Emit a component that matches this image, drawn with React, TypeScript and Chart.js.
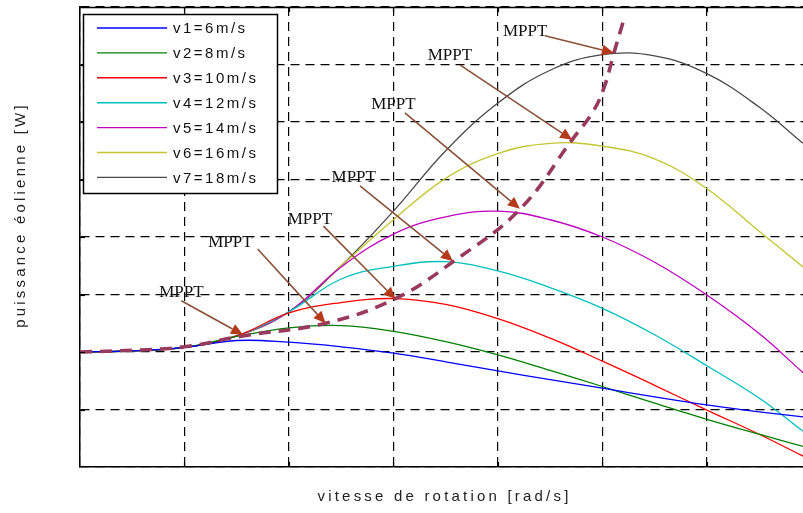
import React, { useEffect, useRef } from "react";
import { Chart, registerables } from "chart.js";

Chart.register(...registerables);

// rotation speed samples (grid units)
const speedX = [0, 0.5, 1, 1.5, 2, 2.5, 3, 3.5, 4, 4.5, 5, 5.5, 6, 6.5, 6.92];

// wind power curves (grid units)
const powerV1 = [2.0, 2.02, 2.08, 2.2, 2.17, 2.09, 1.98, 1.83, 1.67, 1.52, 1.37, 1.22, 1.08, 0.96, 0.87];
const powerV2 = [2.0, 2.02, 2.08, 2.27, 2.42, 2.46, 2.36, 2.18, 1.95, 1.68, 1.4, 1.11, 0.83, 0.57, 0.36];
const powerV3 = [2.0, 2.02, 2.08, 2.28, 2.68, 2.86, 2.93, 2.83, 2.58, 2.24, 1.84, 1.42, 0.99, 0.57, 0.19];
const powerV4 = [2.0, 2.02, 2.08, 2.28, 2.7, 3.27, 3.49, 3.57, 3.41, 3.12, 2.76, 2.3, 1.76, 1.2, 0.62];
const powerV5 = [2.0, 2.02, 2.08, 2.28, 2.7, 3.48, 4.05, 4.35, 4.45, 4.3, 4.0, 3.56, 2.99, 2.32, 1.64];
const powerV6 = [2.0, 2.02, 2.08, 2.28, 2.7, 3.5, 4.3, 5.02, 5.45, 5.63, 5.58, 5.36, 4.84, 4.1, 3.48];
const powerV7 = [2.0, 2.02, 2.08, 2.28, 2.7, 3.5, 4.45, 5.5, 6.33, 6.9, 7.17, 7.15, 6.84, 6.26, 5.63];

const seriesLabels = ["v1=6m/s", "v2=8m/s", "v3=10m/s", "v4=12m/s", "v5=14m/s", "v6=16m/s", "v7=18m/s"];
const seriesValues = [powerV1, powerV2, powerV3, powerV4, powerV5, powerV6, powerV7];
const seriesColors = ["#0000ff", "#008000", "#ff0000", "#00bfbf", "#bf00bf", "#c4c430", "#4a4a4a"];

// MPPT trajectory
const mpptX = [0, 0.5, 1, 1.56, 2.35, 3.02, 3.57, 4.21, 4.71, 4.91, 5.02, 5.11, 5.2];
const mpptY = [2.0, 2.03, 2.09, 2.28, 2.5, 2.93, 3.57, 4.48, 5.69, 6.18, 6.62, 7.2, 7.75];

// MPPT annotations
const mpptText = "MPPT";
const labelX = [0.97, 1.44, 2.2, 2.62, 3.0, 3.54, 4.26];
const labelY = [3.04, 3.91, 4.31, 5.03, 6.31, 7.15, 7.58];
const arrowFromX = [0.97, 1.7, 2.33, 2.68, 3.11, 3.64, 4.45];
const arrowFromY = [2.89, 3.79, 4.19, 4.89, 6.16, 6.99, 7.5];
const arrowToX = [1.56, 2.35, 3.02, 3.57, 4.21, 4.71, 5.11];
const arrowToY = [2.3, 2.5, 2.92, 3.58, 4.49, 5.69, 7.2];

const xTitle = "vitesse de rotation [rad/s]";
const yTitle = "puissance éolienne [W]";

const overlay = {
  id: "overlay",
  afterDatasetsDraw(chart: any) {
    const { ctx, chartArea: a, scales } = chart;
    const xs = scales.x;
    const ys = scales.y;
    ctx.save();
    // top frame line
    ctx.strokeStyle = "#000";
    ctx.lineWidth = 1.5;
    ctx.setLineDash([]);
    ctx.beginPath();
    ctx.moveTo(a.left, a.top + 0.5);
    ctx.lineTo(a.right, a.top + 0.5);
    ctx.stroke();
    // inner tick marks
    ctx.lineWidth = 1.2;
    for (let v = 1; v <= 6; v++) {
      const px = Math.round(xs.getPixelForValue(v)) + 0.5;
      ctx.beginPath();
      ctx.moveTo(px, a.bottom);
      ctx.lineTo(px, a.bottom - 5);
      ctx.moveTo(px, a.top);
      ctx.lineTo(px, a.top + 5);
      ctx.stroke();
    }
    for (let v = 1; v <= 7; v++) {
      const py = Math.round(ys.getPixelForValue(v)) + 0.5;
      ctx.beginPath();
      ctx.moveTo(a.left, py);
      ctx.lineTo(a.left + 5, py);
      ctx.stroke();
    }
    // arrows
    for (let i = 0; i < labelX.length; i++) {
      const x0 = xs.getPixelForValue(arrowFromX[i]);
      const y0 = ys.getPixelForValue(arrowFromY[i]);
      const x1 = xs.getPixelForValue(arrowToX[i]);
      const y1 = ys.getPixelForValue(arrowToY[i]);
      const ang = Math.atan2(y1 - y0, x1 - x0);
      const hl = 12;
      const hw = 5.5;
      const bx = x1 - hl * Math.cos(ang);
      const by = y1 - hl * Math.sin(ang);
      ctx.strokeStyle = "#8a5038";
      ctx.lineWidth = 1.6;
      ctx.beginPath();
      ctx.moveTo(x0, y0);
      ctx.lineTo(bx, by);
      ctx.stroke();
      ctx.fillStyle = "#b43a1c";
      ctx.beginPath();
      ctx.moveTo(x1, y1);
      ctx.lineTo(bx + hw * Math.sin(ang), by - hw * Math.cos(ang));
      ctx.lineTo(bx - hw * Math.sin(ang), by + hw * Math.cos(ang));
      ctx.closePath();
      ctx.fill();
      // label
      ctx.fillStyle = "#111";
      ctx.font = '17px "Liberation Serif", "Times New Roman", serif';
      ctx.textAlign = "center";
      ctx.textBaseline = "middle";
      ctx.fillText(mpptText, xs.getPixelForValue(labelX[i]), ys.getPixelForValue(labelY[i]));
    }
    ctx.restore();
  },
  afterDraw(chart: any) {
    const { ctx, chartArea: a } = chart;
    ctx.save();
    // legend box
    const lx = a.left + 3;
    const ly = a.top + 7;
    const lw = 194;
    const lh = 179;
    ctx.fillStyle = "#fff";
    ctx.fillRect(lx, ly, lw, lh);
    ctx.strokeStyle = "#000";
    ctx.lineWidth = 1.5;
    ctx.setLineDash([]);
    ctx.strokeRect(lx + 0.5, ly + 0.5, lw, lh);
    ctx.font = '15px "Liberation Sans", Arial, sans-serif';
    ctx.textAlign = "left";
    ctx.textBaseline = "middle";
    (ctx as any).letterSpacing = "2.5px";
    const ds = chart.data.datasets.filter((d: any) => d.inLegend);
    ds.forEach((d: any, i: number) => {
      const ry = ly + 14 + i * 24.9;
      ctx.strokeStyle = d.borderColor;
      ctx.lineWidth = 1.4;
      ctx.beginPath();
      ctx.moveTo(lx + 14, ry);
      ctx.lineTo(lx + 84, ry);
      ctx.stroke();
      ctx.fillStyle = "#111";
      ctx.fillText(d.label, lx + 90, ry + 1);
    });
    // axis titles
    ctx.font = '15px "Liberation Sans", Arial, sans-serif';
    (ctx as any).letterSpacing = "3.2px";
    ctx.fillStyle = "#222";
    ctx.textAlign = "center";
    ctx.textBaseline = "middle";
    ctx.fillText(xTitle, (a.left + a.right) / 2 + 3, a.bottom + 30);
    ctx.translate(21, 215);
    ctx.rotate(-Math.PI / 2);
    ctx.fillText(yTitle, 0, 0);
    ctx.restore();
  },
};

export default function App() {
  const ref = useRef<HTMLCanvasElement | null>(null);
  useEffect(() => {
    if (!ref.current) return;
    const datasets: any[] = seriesValues.map((vals, i) => ({
      label: seriesLabels[i],
      data: speedX.map((x, j) => ({ x, y: vals[j] })),
      borderColor: seriesColors[i],
      borderWidth: 1.3,
      pointRadius: 0,
      tension: 0.4,
      fill: false,
      order: 1,
      inLegend: true,
    }));
    datasets.push({
      label: "MPPT",
      data: mpptX.map((x, j) => ({ x, y: mpptY[j] })),
      borderColor: "#983a5e",
      borderWidth: 3.6,
      borderDash: [12, 8],
      pointRadius: 0,
      tension: 0.4,
      fill: false,
      order: 0,
      inLegend: false,
    });
    const gridColor = (c: any) =>
      c.tick && Number.isInteger(Math.round(c.tick.value * 1000) / 1000) ? "#000" : "rgba(0,0,0,0)";
    const chart = new Chart(ref.current, {
      type: "line",
      data: { datasets },
      plugins: [overlay],
      options: {
        animation: false,
        responsive: false,
        devicePixelRatio: 1,
        layout: { padding: { left: 80, right: 0, top: 7, bottom: 46 } },
        plugins: { legend: { display: false }, tooltip: { enabled: false } },
        scales: {
          x: {
            type: "linear",
            min: 0,
            max: 6.92,
            ticks: { display: false, stepSize: 1 },
            grid: { color: gridColor, lineWidth: 1.2, drawTicks: false },
            border: { display: true, color: "#000", width: 1.5, dash: [9, 6] },
            afterFit: (s: any) => {
              s.height = 0;
            },
          },
          y: {
            type: "linear",
            min: 0,
            max: 8,
            ticks: { display: false, stepSize: 1 },
            grid: { color: gridColor, lineWidth: 1.2, drawTicks: false },
            border: { display: true, color: "#000", width: 1.5, dash: [9, 6] },
            afterFit: (s: any) => {
              s.width = 0;
            },
          },
        },
      } as any,
    });
    return () => chart.destroy();
  }, []);
  return (
    <div style={{ position: "absolute", left: 0, top: 0, width: 803, height: 513, background: "#fff" }}>
      <canvas ref={ref} width={803} height={513} />
    </div>
  );
}
